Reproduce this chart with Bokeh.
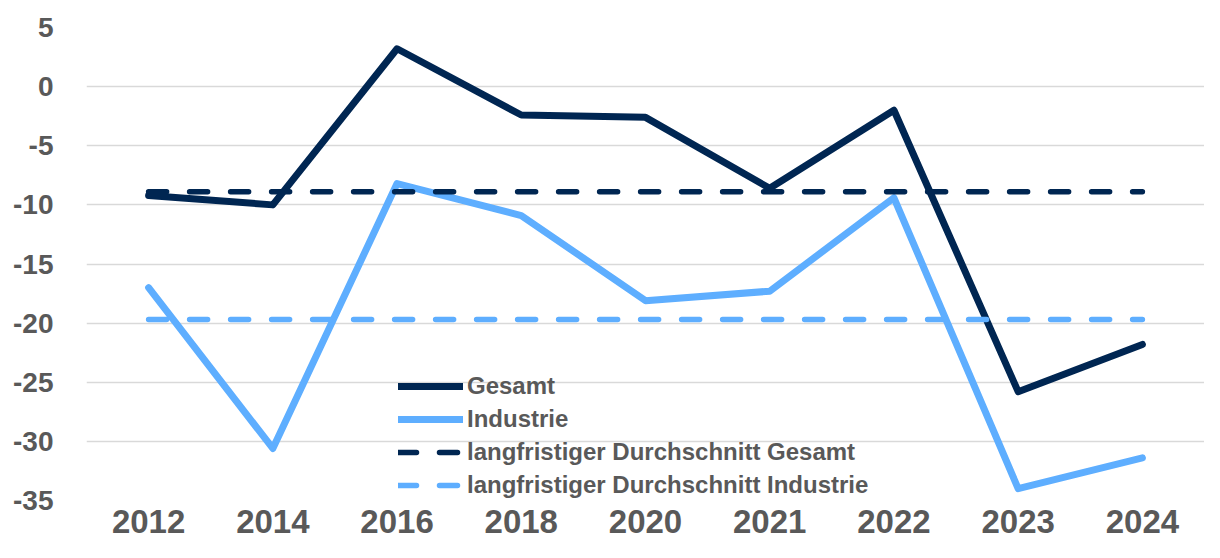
from bokeh.plotting import figure
from bokeh.models import Range1d, FactorRange, Legend, LegendItem, FixedTicker, PrintfTickFormatter
from bokeh.embed import file_html
from bokeh.resources import INLINE

years = ["2012", "2014", "2016", "2018", "2020", "2021", "2022", "2023", "2024"]
gesamt = [-9.2, -10.0, 3.2, -2.4, -2.6, -8.6, -2.0, -25.8, -21.8]
industrie = [-17.0, -30.6, -8.2, -10.9, -18.1, -17.3, -9.4, -34.0, -31.4]
avg_gesamt = -8.9
avg_industrie = -19.7
y_ticks = [-35, -30, -25, -20, -15, -10, -5, 0, 5]

NAVY = "#002652"
LIGHT = "#5eaeff"
TEXT = "#595959"
FONT = "Liberation Sans"

p = figure(width=1204, height=542, x_range=FactorRange(*years, range_padding=0),
           y_range=Range1d(-35, 5), output_backend="svg", toolbar_location=None,
           min_border_left=86, min_border_right=0, min_border_top=27, min_border_bottom=42)
p.outline_line_color = None
p.background_fill_color = "white"
p.border_fill_color = "white"

p.xgrid.grid_line_color = None
p.ygrid.grid_line_color = "#d9d9d9"
p.ygrid.grid_line_width = 1.5

p.yaxis.ticker = FixedTicker(ticks=y_ticks)
p.yaxis.formatter = PrintfTickFormatter(format="%d")
for ax in (p.xaxis, p.yaxis):
    ax.axis_line_color = None
    ax.major_tick_line_color = None
    ax.minor_tick_line_color = None
    ax.major_label_text_font = FONT
    ax.major_label_text_font_style = "bold"
    ax.major_label_text_color = TEXT
p.yaxis.major_label_text_font_size = "28px"
p.yaxis.major_label_standoff = 27
p.xaxis.major_label_text_font_size = "33px"
p.xaxis.major_label_standoff = 3

r_g = p.line(years, gesamt, line_color=NAVY, line_width=7, line_join="round", line_cap="round")
r_i = p.line(years, industrie, line_color=LIGHT, line_width=7, line_join="round", line_cap="round")
r_ag = p.line(years, [avg_gesamt] * len(years), line_color=NAVY, line_width=5.5,
              line_dash="18 23", line_cap="round")
r_ai = p.line(years, [avg_industrie] * len(years), line_color=LIGHT, line_width=5.5,
              line_dash="18 23", line_cap="round")

legend = Legend(items=[
    LegendItem(label="Gesamt", renderers=[r_g]),
    LegendItem(label="Industrie", renderers=[r_i]),
    LegendItem(label="langfristiger Durchschnitt Gesamt", renderers=[r_ag]),
    LegendItem(label="langfristiger Durchschnitt Industrie", renderers=[r_ai]),
], location=(312, 1))
legend.background_fill_alpha = 0
legend.border_line_color = None
legend.padding = 0
legend.margin = 0
legend.spacing = 5
legend.glyph_width = 65
legend.glyph_height = 24
legend.label_height = 24
legend.label_standoff = 4
legend.label_text_font = FONT
legend.label_text_font_style = "bold"
legend.label_text_font_size = "24px"
legend.label_text_color = TEXT
p.add_layout(legend, "center")

open("out.html", "w").write(file_html(p, INLINE))
